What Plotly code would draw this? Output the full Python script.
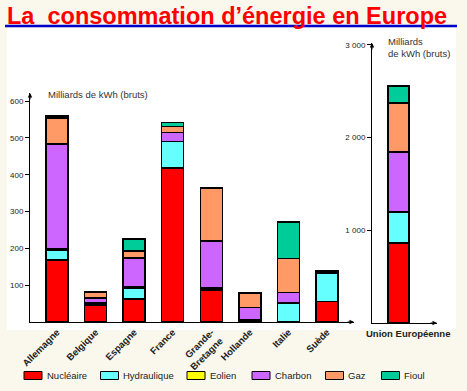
import plotly.graph_objects as go

# ---------------- data ----------------
pays = ["Allemagne", "Belgique", "Espagne", "France", "Grande-<br>Bretagne",
        "Hollande", "Italie", "Suède"]
sources = ["Nucléaire", "Hydraulique", "Eolien", "Charbon", "Gaz", "Fioul"]
couleurs = ["#FF0000", "#66FFFF", "#FFFF00", "#CC66FF", "#FF9966", "#00CC99"]

nucleaire   = [168, 46, 62, 418, 87, 4, 0, 55]
hydraulique = [28, 3, 30, 72, 4, 0, 52, 76]
eolien      = [4, 3, 3, 1, 2, 1, 1, 1]
charbon     = [284, 13, 79, 24, 127, 34, 27, 3]
gaz         = [70, 15, 19, 16, 142, 39, 92, 1]
fioul       = [6, 2, 32, 11, 3, 1, 100, 4]

ue_label = ["Union Européenne"]
ue_nucleaire   = [863]
ue_hydraulique = [330]
ue_eolien      = [5]
ue_charbon     = [647]
ue_gaz         = [528]
ue_fioul       = [184]

left_ticks = [100, 200, 300, 400, 500, 600]
right_ticks = [1000, 2000, 3000]
right_ticktext = ["1 000", "2 000", "3 000"]

# ---------------- figure ----------------
W, H = 467, 391
FONT = "Liberation Sans, Arial, sans-serif"

def px_x(p):
    return p / W

def px_y(p):
    return 1 - p / H

fig = go.Figure()

series_left = [nucleaire, hydraulique, eolien, charbon, gaz, fioul]
series_right = [ue_nucleaire, ue_hydraulique, ue_eolien, ue_charbon, ue_gaz, ue_fioul]

for name, col, vals in zip(sources, couleurs, series_left):
    fig.add_trace(go.Bar(x=pays, y=vals, name=name, marker_color=col,
                         marker_line=dict(color="black", width=1.4),
                         width=0.57, xaxis="x", yaxis="y", showlegend=False))
for name, col, vals in zip(sources, couleurs, series_right):
    fig.add_trace(go.Bar(x=ue_label, y=vals, name=name, marker_color=col,
                         marker_line=dict(color="black", width=1.4),
                         width=0.6, xaxis="x2", yaxis="y2", showlegend=False))

# plot geometry (pixels)
L_x0, L_x1, L_y0, L_y1 = 30, 354, 322, 93
R_x0, R_x1, R_y0, R_y1 = 372, 437, 323, 43

axis_common = dict(showline=True, linecolor="black", linewidth=1,
                   showgrid=False, zeroline=False, mirror=False, automargin=False)

fig.update_layout(
    template="none",
    width=W, height=H,
    margin=dict(l=0, r=0, t=0, b=0, pad=0),
    paper_bgcolor="#FAF7EC",
    plot_bgcolor="white",
    barmode="stack",
    showlegend=False,
    font=dict(family=FONT, size=9, color="#222"),
    xaxis=dict(domain=[px_x(L_x0), px_x(L_x1)], anchor="y", type="category",
               range=[-0.7, 7.7], ticks="", tickangle=-45,
               tickfont=dict(family=FONT, size=9.5, color="#222", weight="bold"),
               **axis_common),
    yaxis=dict(domain=[px_y(L_y0), px_y(L_y1)], anchor="x", range=[0, 622],
               tickvals=left_ticks, ticks="outside", ticklen=4, tickcolor="black",
               tickfont=dict(family=FONT, size=8, color="#222"), **axis_common),
    xaxis2=dict(domain=[px_x(R_x0), px_x(R_x1)], anchor="y2", type="category",
                range=[-0.757, 1.1], showticklabels=False, ticks="",
                **axis_common),
    yaxis2=dict(domain=[px_y(R_y0), px_y(R_y1)], anchor="x2", range=[0, 3020],
                tickvals=right_ticks, ticktext=right_ticktext, ticks="outside",
                ticklen=4, tickcolor="black",
                tickfont=dict(family=FONT, size=8, color="#222"), **axis_common),
)

shapes = [
    # white panel behind charts
    dict(type="rect", xref="paper", yref="paper", x0=px_x(7), x1=px_x(456),
         y0=px_y(330), y1=px_y(28), fillcolor="white", line_width=0, layer="below"),
    # blue underline of the title
    dict(type="line", xref="paper", yref="paper", x0=px_x(5), x1=px_x(457),
         y0=px_y(26), y1=px_y(26), line=dict(color="#0000CC", width=2.5)),
]

annotations = [
    dict(text="<b>La\u00a0 consommation d’énergie en Europe</b>", xref="paper", yref="paper",
         x=px_x(5), y=px_y(0.5), xanchor="left", yanchor="top", showarrow=False,
         font=dict(family=FONT, size=23.5, color="#FF0000")),
    dict(text="Milliards de kWh (bruts)", xref="paper", yref="paper",
         x=px_x(46), y=px_y(95), xanchor="left", yanchor="middle", showarrow=False,
         font=dict(family=FONT, size=9.5, color="#333")),
    dict(text="Milliards<br>de kWh (bruts)", xref="paper", yref="paper",
         x=px_x(386), y=px_y(34), xanchor="left", yanchor="top", showarrow=False,
         align="left", font=dict(family=FONT, size=9.5, color="#333")),
    dict(text="<b>Union Européenne</b>", xref="paper", yref="paper",
         x=px_x(408), y=px_y(333), xanchor="center", yanchor="middle", showarrow=False,
         font=dict(family=FONT, size=9.5, color="#222")),
]

# axis arrowheads
for (ax_x, ax_y, dx, dy) in [(L_x0, L_y1, 0, 8), (L_x1, L_y0, -8, 0),
                             (R_x0, R_y1, 0, 8), (R_x1, R_y0, -8, 0)]:
    annotations.append(dict(x=px_x(ax_x), y=px_y(ax_y), xref="paper", yref="paper",
                            text="", showarrow=True, arrowhead=2, arrowsize=0.9,
                            arrowwidth=1, arrowcolor="black", ax=dx, ay=dy,
                            standoff=0))

# custom legend (wide rectangular swatches)
swatch_x = [24, 100.5, 187, 252, 325.5, 381.5]
for sx, name, col in zip(swatch_x, sources, couleurs):
    shapes.append(dict(type="rect", xref="paper", yref="paper",
                       x0=px_x(sx), x1=px_x(sx + 18), y0=px_y(379.5), y1=px_y(371.5),
                       fillcolor=col, line=dict(color="black", width=1)))
    annotations.append(dict(text=name, xref="paper", yref="paper",
                            x=px_x(sx + 20.5), y=px_y(375.5), xanchor="left",
                            yanchor="middle", showarrow=False,
                            font=dict(family=FONT, size=9.5, color="#222")))

fig.update_layout(shapes=shapes, annotations=annotations)
fig.write_html("out.html",
               config={"displayModeBar": False},
               post_script="document.body.style.margin='0';"
                           "document.body.style.background='#FAF7EC';")
